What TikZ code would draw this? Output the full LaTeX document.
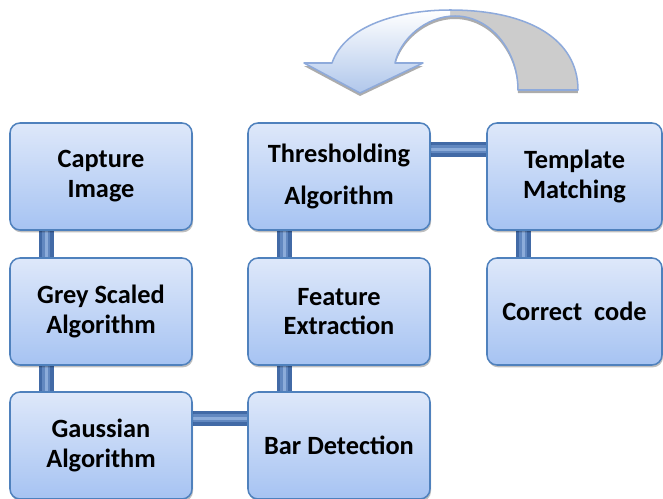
\documentclass[tikz,border=0pt]{standalone}
\usepackage{fontspec}
\setmainfont{Carlito}
\usetikzlibrary{shadows,backgrounds}
\definecolor{boxborder}{RGB}{79,129,189}
\definecolor{boxtop}{RGB}{222,232,250}
\definecolor{boxbot}{RGB}{166,195,242}
\definecolor{conndark}{RGB}{66,106,166}
\definecolor{connmid}{RGB}{98,136,192}
\definecolor{connlight}{RGB}{140,172,218}
\definecolor{arrowblue}{RGB}{142,170,219}
\definecolor{arrowfront}{RGB}{176,199,235}
\tikzset{
  stepbox/.style={draw=boxborder, line width=1.3pt, rounded corners=0.3cm,
    top color=boxtop, bottom color=boxbot,
    minimum width=5.46cm, minimum height=3.21cm, align=center,
    font=\bfseries\fontsize{22.5}{25.5}\selectfont,
    drop shadow={shadow xshift=0.03cm, shadow yshift=-0.07cm, opacity=0.25, fill=black}},
  narrowbox/.style={stepbox, minimum width=5.25cm},
  conn/.style={line width=0.44cm, draw=conndark,
    postaction={draw=connmid, line width=0.24cm},
    postaction={draw=connlight, line width=0.08cm}}
}
\begin{document}
\begin{tikzpicture}[x=0.03cm,y=-0.03cm]
\useasboundingbox (0,0) rectangle (663,499);
\clip (0,0) rectangle (663,499);

% curved arrow: side thickness
\fill[gray!65, shift={(0,3)}] (304,63) -- (332,63) .. controls (345,25) and (400,10) .. (450,10) .. controls (530,10) and (578,40) .. (578,90) -- (518,90) .. controls (518,50) and (490,16) .. (455,16) .. controls (425,16) and (400,40) .. (395,63) -- (423,63) -- (360,93) -- cycle;
% back face
\fill[gray!40] (304,63) -- (332,63) .. controls (345,25) and (400,10) .. (450,10) .. controls (530,10) and (578,40) .. (578,90) -- (518,90) .. controls (518,50) and (490,16) .. (455,16) .. controls (425,16) and (400,40) .. (395,63) -- (423,63) -- (360,93) -- cycle;
% front face
\begin{scope}
\clip (0,0) rectangle (450,110);
\shade[top color=white, bottom color=arrowfront] (304,63) -- (332,63) .. controls (345,25) and (400,10) .. (450,10) .. controls (530,10) and (578,40) .. (578,90) -- (518,90) .. controls (518,50) and (490,16) .. (455,16) .. controls (425,16) and (400,40) .. (395,63) -- (423,63) -- (360,93) -- cycle;
\end{scope}
\draw[arrowblue, line width=1.3pt, line join=round] (304,63) -- (332,63) .. controls (345,25) and (400,10) .. (450,10) .. controls (530,10) and (578,40) .. (578,90) -- (518,90) .. controls (518,50) and (490,16) .. (455,16) .. controls (425,16) and (400,40) .. (395,63) -- (423,63) -- (360,93) -- cycle;

% boxes
\node[stepbox] (cap) at (101,176.5) {Capture\\Image};
\node[stepbox] (grey) at (101,311.5) {Grey Scaled\\Algorithm};
\node[stepbox] (gauss) at (101,445.5) {Gaussian\\Algorithm};
\node[stepbox, font=\bfseries\fontsize{22.5}{36}\selectfont] (thr) at (339,176.5) {Thresholding\\Algorithm};
\node[stepbox] (feat) at (339,311.5) {Feature\\Extraction};
\node[stepbox] (bar) at (339,445.5) {Bar Detection};
\node[narrowbox] (tmpl) at (574.5,176.5) {Template\\Matching};
\node[narrowbox] (corr) at (574.5,311.5) {Correct\ \ code};

% connectors
\begin{scope}[on background layer]
\draw[conn] ([xshift=1.11cm]cap.south west) -- ([xshift=1.11cm]grey.north west);
\draw[conn] ([xshift=1.11cm]grey.south west) -- ([xshift=1.11cm]gauss.north west);
\draw[conn] ([yshift=-0.81cm]gauss.north east) -- ([yshift=-0.81cm]bar.north west);
\draw[conn] ([xshift=1.11cm]bar.north west) -- ([xshift=1.11cm]feat.south west);
\draw[conn] ([xshift=1.11cm]feat.north west) -- ([xshift=1.11cm]thr.south west);
\draw[conn] ([yshift=-0.81cm]thr.north east) -- ([yshift=-0.81cm]tmpl.north west);
\draw[conn] ([xshift=1.11cm]tmpl.south west) -- ([xshift=1.11cm]corr.north west);
\end{scope}
\end{tikzpicture}
\end{document}
